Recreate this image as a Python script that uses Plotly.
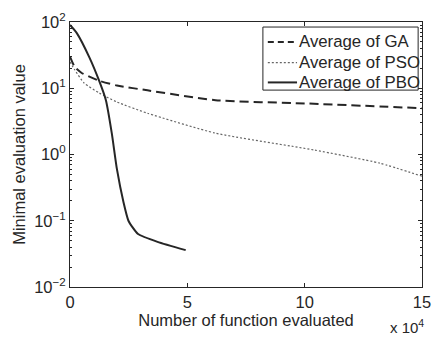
import plotly.graph_objects as go

# Data (x in function evaluations)
ga_x = [0, 2000, 5000, 12400, 20000, 33000, 62000, 100000, 150000]
ga_y = [30, 21, 17, 13, 11, 9.3, 6.6, 5.9, 5.0]

pso_x = [0, 2000, 6000, 12400, 20000, 33000, 62000, 104000, 132000, 150000]
pso_y = [25, 19, 12, 8.5, 6.2, 4.2, 2.1, 1.17, 0.74, 0.47]

pbo_x = [0, 2900, 8300, 12400, 15300, 17800, 20000, 22800, 24900, 26500, 29000, 37300, 49300]
pbo_y = [90, 68, 29, 13, 6.6, 2.1, 0.6, 0.19, 0.1, 0.081, 0.063, 0.048, 0.036]

series_names = ["Average of GA", "Average of PSO", "Average of PBO"]

x_tickvals = [0, 50000, 100000, 150000]
x_ticktext = ["0", "5", "10", "15"]
y_tickvals = [0.01, 0.1, 1, 10, 100]
y_ticktext = ["10<sup>\u22122</sup>", "10<sup>\u22121</sup>", "10<sup>0</sup>", "10<sup>1</sup>", "10<sup>2</sup>"]

INK = "#262626"
FONT = "Liberation Sans, Arial, sans-serif"
FS = 16.5

styles = [
    dict(color=INK, width=2, dash="9px,5px"),
    dict(color="#666666", width=1.2, dash="2px,2px"),
    dict(color=INK, width=2, dash="solid"),
]
legend_dash = ["6px,4px", "2px,2px", "solid"]

fig = go.Figure()
for (xs, ys), name, st in zip([(ga_x, ga_y), (pso_x, pso_y), (pbo_x, pbo_y)], series_names, styles):
    fig.add_trace(go.Scatter(x=xs, y=ys, mode="lines", name=name, showlegend=False,
                             line=dict(color=st["color"], width=st["width"], dash=st["dash"],
                                       shape="spline", smoothing=0.55)))

# Legend drawn in paper coordinates (box, samples, labels)
shapes = [dict(type="rect", xref="paper", yref="paper", x0=0.548, x1=0.989, y0=0.743, y1=0.981,
               line=dict(color=INK, width=1), fillcolor="white", layer="above")]
annotations = []
row_y = [0.925, 0.847, 0.772]
for name, st, ld, ry in zip(series_names, styles, legend_dash, row_y):
    shapes.append(dict(type="line", xref="paper", yref="paper", x0=0.562, x1=0.645, y0=ry, y1=ry,
                       line=dict(color=st["color"], width=st["width"], dash=ld), layer="above"))
    annotations.append(dict(text=name, xref="paper", yref="paper", x=0.645, y=ry,
                            xanchor="left", yanchor="middle", showarrow=False,
                            font=dict(size=16.8, color=INK)))

annotations.append(dict(text="x 10<sup>4</sup>", xref="paper", yref="paper",
                        x=1.012, y=-0.105, xanchor="right", yanchor="top",
                        showarrow=False, font=dict(size=15, color=INK)))

fig.update_layout(
    width=442, height=338,
    margin=dict(l=70, r=11, t=22, b=51),
    paper_bgcolor="white", plot_bgcolor="white",
    font=dict(family=FONT, size=FS, color=INK),
    showlegend=False,
    shapes=shapes,
    annotations=annotations,
)

fig.update_xaxes(range=[0, 150000], tickvals=x_tickvals, ticktext=x_ticktext,
                 showline=True, linecolor=INK, linewidth=1, mirror="ticks",
                 ticks="inside", ticklen=4, tickcolor=INK, showgrid=False, zeroline=False,
                 title=dict(text="Number of function evaluated", standoff=1, font=dict(size=FS)),
                 tickfont=dict(size=FS))
fig.update_yaxes(type="log", range=[-2, 2], tickvals=y_tickvals, ticktext=y_ticktext,
                 showline=True, linecolor=INK, linewidth=1, mirror="ticks",
                 ticks="inside", ticklen=4, tickcolor=INK, showgrid=False, zeroline=False,
                 minor=dict(ticks="inside", ticklen=2, tickcolor=INK, dtick="D1", showgrid=False),
                 title=dict(text="Minimal evaluation value", standoff=4, font=dict(size=FS)),
                 tickfont=dict(size=FS))

fig.write_html("out.html")
